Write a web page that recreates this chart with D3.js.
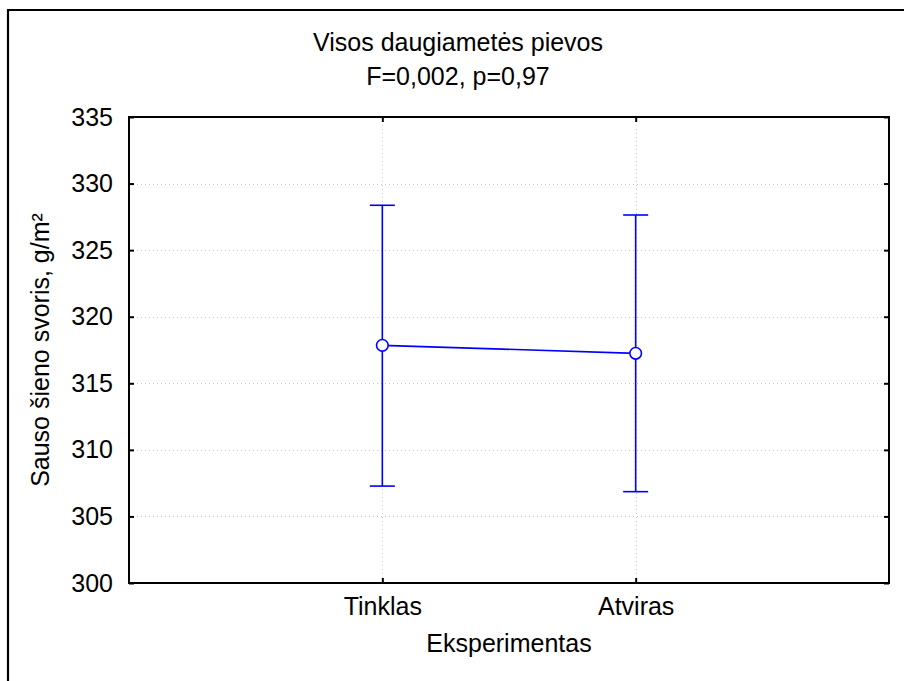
<!DOCTYPE html>
<html>
<head>
<meta charset="utf-8">
<script src="https://cdn.jsdelivr.net/npm/d3@7"></script>
<style>
  html, body { margin: 0; padding: 0; background: #fff; }
  svg { display: block; }
  text { font-family: Arial, "Liberation Sans", sans-serif; fill: #000; }
</style>
</head>
<body>
<script>
// Group means with error bar bounds (dry hay weight, g/m²)
const categories = ["Tinklas", "Atviras"];
const means = [317.85, 317.25];
const upper = [328.37, 327.64];
const lower = [307.28, 306.86];
const yTicks = [300, 305, 310, 315, 320, 325, 330, 335];
const titleLines = ["Visos daugiametės pievos", "F=0,002, p=0,97"];
const xLabel = "Eksperimentas";
const yLabel = "Sauso šieno svoris, g/m²";

const W = 904, H = 681;
const plot = { left: 129, right: 889, top: 117, bottom: 583 };
const fontSize = 25;
const blue = "#0000ff";

const svg = d3.select("body").append("svg").attr("width", W).attr("height", H);

// Outer frame
svg.append("path")
  .attr("d", `M8,${H + 5}V10H${W + 5}`)
  .attr("fill", "none").attr("stroke", "#000").attr("stroke-width", 2.2);

const x = d3.scalePoint().domain(["", ...categories, " "]).range([plot.left, plot.right]);
const y = d3.scaleLinear().domain([300, 335]).range([plot.bottom, plot.top]);

// Dotted grid
const grid = svg.append("g").attr("stroke", "#c8c8c8").attr("stroke-width", 1)
  .attr("stroke-dasharray", "1,3");
grid.selectAll(".gy").data(yTicks.slice(1, -1)).join("line")
  .attr("x1", plot.left).attr("x2", plot.right)
  .attr("y1", d => Math.round(y(d)) + 0.5).attr("y2", d => Math.round(y(d)) + 0.5);
grid.selectAll(".gx").data(categories).join("line")
  .attr("y1", plot.top).attr("y2", plot.bottom)
  .attr("x1", d => Math.round(x(d)) + 0.5).attr("x2", d => Math.round(x(d)) + 0.5);

// Axes (ticks pointing inward)
const tickLen = 5;
const yLeft = d3.axisLeft(y).tickValues(yTicks).tickSize(-tickLen).tickPadding(16);
const yRight = d3.axisRight(y).tickValues(yTicks).tickSize(-tickLen).tickFormat("");
const xBottom = d3.axisBottom(x).tickValues(categories).tickSize(-tickLen).tickPadding(14);
const xTop = d3.axisTop(x).tickValues(categories).tickSize(-tickLen).tickFormat("");

function styleAxis(g) {
  g.selectAll(".domain").remove();
  g.selectAll("line").attr("stroke", "#000").attr("stroke-width", 2);
  g.selectAll("text").attr("font-size", fontSize).attr("font-family", "Arial, 'Liberation Sans', sans-serif");
}
svg.append("g").attr("transform", `translate(${plot.left},0)`).call(yLeft).call(styleAxis);
svg.append("g").attr("transform", `translate(${plot.right},0)`).call(yRight).call(styleAxis);
svg.append("g").attr("transform", `translate(0,${plot.bottom})`).call(xBottom).call(styleAxis)
  .selectAll("text").attr("dy", "0.71em");
svg.append("g").attr("transform", `translate(0,${plot.top})`).call(xTop).call(styleAxis);

// Plot frame
svg.append("rect")
  .attr("x", plot.left).attr("y", plot.top)
  .attr("width", plot.right - plot.left).attr("height", plot.bottom - plot.top)
  .attr("fill", "none").attr("stroke", "#000").attr("stroke-width", 2);

// Error bars
const capHalf = 12.5;
const bars = svg.append("g").attr("stroke", blue).attr("stroke-width", 1.6).attr("fill", "none");
categories.forEach((c, i) => {
  const cx = x(c);
  bars.append("line").attr("x1", cx).attr("x2", cx).attr("y1", y(upper[i])).attr("y2", y(lower[i]));
  bars.append("line").attr("x1", cx - capHalf).attr("x2", cx + capHalf).attr("y1", y(upper[i])).attr("y2", y(upper[i]));
  bars.append("line").attr("x1", cx - capHalf).attr("x2", cx + capHalf).attr("y1", y(lower[i])).attr("y2", y(lower[i]));
});

// Mean line and markers
const line = d3.line().x((d, i) => x(categories[i])).y(d => y(d));
svg.append("path").datum(means).attr("d", line)
  .attr("fill", "none").attr("stroke", blue).attr("stroke-width", 1.6);
svg.selectAll(".pt").data(means).join("circle")
  .attr("cx", (d, i) => x(categories[i])).attr("cy", d => y(d)).attr("r", 5.8)
  .attr("fill", "#fff").attr("stroke", blue).attr("stroke-width", 1.6);

// Titles
svg.selectAll(".title").data(titleLines).join("text")
  .attr("x", 458).attr("y", (d, i) => 51 + i * 34)
  .attr("text-anchor", "middle").attr("font-size", fontSize).text(d => d);

svg.append("text").attr("x", (plot.left + plot.right) / 2).attr("y", 652)
  .attr("text-anchor", "middle").attr("font-size", fontSize).text(xLabel);

svg.append("text")
  .attr("transform", `translate(49,${(plot.top + plot.bottom) / 2}) rotate(-90)`)
  .attr("text-anchor", "middle").attr("font-size", fontSize).text(yLabel);
</script>
</body>
</html>
